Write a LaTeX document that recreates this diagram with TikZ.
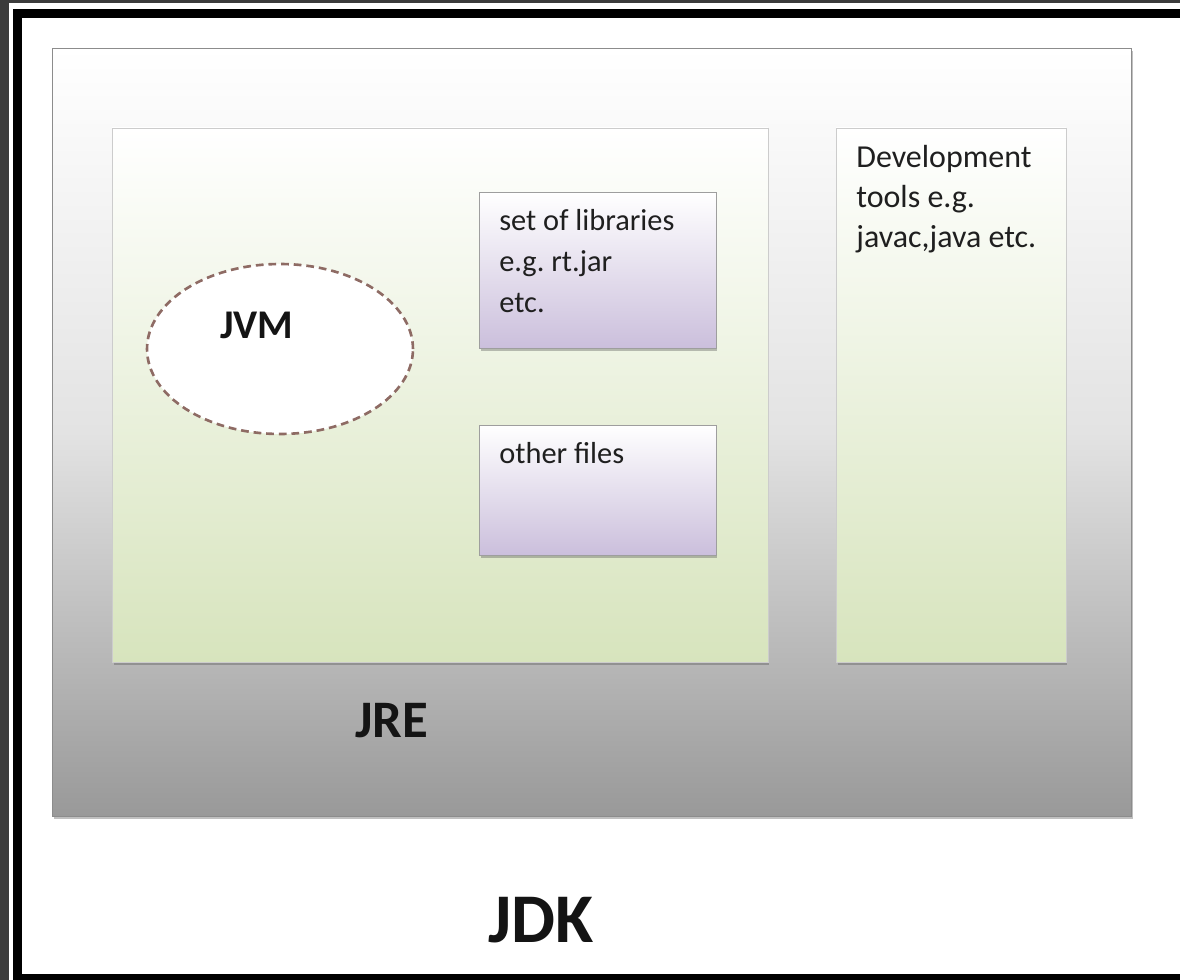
\documentclass[tikz,border=0pt]{standalone}
\usepackage{fontspec}
\setmainfont{Carlito}
\usetikzlibrary{shapes.geometric,shadows}
\frenchspacing

\definecolor{framegray}{HTML}{3C3C3C}
\definecolor{jdkgray}{HTML}{999999}
\definecolor{jregreen}{HTML}{D7E4BD}
\definecolor{liblilac}{HTML}{CBBFDC}
\definecolor{jvmdash}{HTML}{8E6B64}

\tikzstyle{box}=[rectangle,anchor=north west,inner sep=0pt,outer sep=0pt]
\tikzstyle{softshadow}=[drop shadow={shadow xshift=0.03cm,shadow yshift=-0.06cm,opacity=0.35,fill=black!70}]
\tikzstyle{jdkbox}=[box,softshadow,draw=black!45,top color=white,bottom color=jdkgray,middle color=black!11]
\tikzstyle{jrebox}=[box,softshadow,draw=black!20,top color=white,bottom color=jregreen,middle color=jregreen!50]
\tikzstyle{libbox}=[box,softshadow,draw=black!38,top color=white,bottom color=liblilac]
\tikzstyle{jvmshape}=[ellipse,draw=jvmdash,fill=white,line width=1.5pt,dash pattern=on 4.4pt off 2.8pt,inner sep=0pt]
\tikzstyle{smalltext}=[anchor=base west,align=left,inner sep=0pt,font=\fontsize{17.3}{23.2}\selectfont,text=black!88]
\tikzstyle{bigtext}=[anchor=base west,inner sep=0pt,text=black!92]

\begin{document}
\begin{tikzpicture}[x=0.02cm,y=-0.02cm]
\useasboundingbox (0,0) rectangle (1180,980);
% outer frame
\fill[framegray] (0,0) rectangle (1180,980);
\fill[white] (9,3) rectangle (1180,980);
\draw[black,line width=0.18cm] (17.5,14) rectangle (1200,978.5);

% JDK
\node[jdkbox,minimum width=21.6cm,minimum height=15.36cm] (jdk) at (52,48) {};
\node[bigtext,font=\bfseries\fontsize{39.7}{40}\selectfont] (jdklabel) at (488,942) {JDK};

% JRE
\node[jrebox,minimum width=13.12cm,minimum height=10.68cm] (jre) at (112,128) {};
\node[bigtext,font=\bfseries\fontsize{30}{30}\selectfont] (jrelabel) at (355,737) {JRE};

% development tools (anchor is the last line)
\node[jrebox,minimum width=4.6cm,minimum height=10.68cm] (devtools) at (836,128) {};
\node[smalltext,font=\fontsize{18.2}{22.7}\selectfont] (devtext) at (856,247)
    {Development\\tools e.g.\\javac,java etc.};

% JVM
\node[jvmshape,minimum width=5.32cm,minimum height=3.4cm] (jvm) at (280,349) {};
\node[bigtext,font=\bfseries\fontsize{23.2}{24}\selectfont] (jvmlabel) at (220,338) {JVM};

% libraries and other files
\node[libbox,minimum width=4.74cm,minimum height=3.12cm] (libs) at (479,192) {};
\node[smalltext] (libtext) at (499,312) {set of libraries\\e.g. rt.jar\\etc.};
\node[libbox,minimum width=4.74cm,minimum height=2.6cm] (others) at (479,425) {};
\node[smalltext] (othertext) at (499,463) {other files};

\end{tikzpicture}
\end{document}
